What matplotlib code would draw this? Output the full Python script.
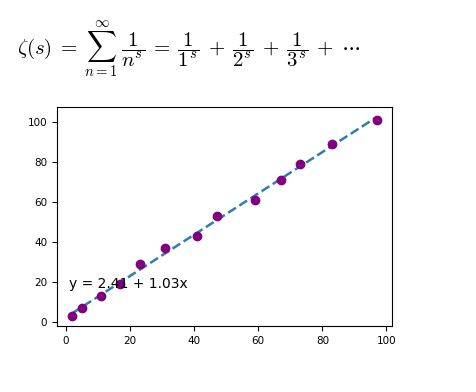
import numpy as np
import matplotlib
matplotlib.use("Agg")
import matplotlib.pyplot as plt

plt.rcParams['mathtext.fontset'] = 'cm'

x = [2, 5, 11, 17, 23, 31, 41, 47, 59, 67, 73, 83, 97]
y = [3, 7, 13, 19, 29, 37, 43, 53, 61, 71, 79, 89, 101]

slope, intercept = np.polyfit(x, y, 1)
xs = np.array([min(x), max(x)])

fig = plt.figure(figsize=(4.77, 3.92), dpi=100)
ax = fig.add_axes([0.1195, 0.168, 0.7025, 0.559])
ax.scatter(x, y, color='purple', s=36, zorder=3)
ax.plot(xs, intercept + slope * xs, '--', color='#2f7bb6', lw=1.8, zorder=2)
ax.text(1, 19, f"y = {intercept:.2f} + {slope:.2f}x", fontsize=10, va='center')
ax.tick_params(labelsize=7.5)

sp = r"\hspace{0.24}"
eq = (r"$\zeta(s)" + sp + "=" + sp + r"\sum_{n=1}^\infty" + sp + r"\dfrac{1}{n^s}" + sp + "=" + sp
      + r"\dfrac{1}{1^s}" + sp + "+" + sp + r"\dfrac{1}{2^s}" + sp + "+" + sp
      + r"\dfrac{1}{3^s}" + sp + "+" + sp + r"\cdots$")
fig.text(0.035, 0.872, eq, fontsize=15, va='center', ha='left')

fig.savefig("out.png", dpi=100)
